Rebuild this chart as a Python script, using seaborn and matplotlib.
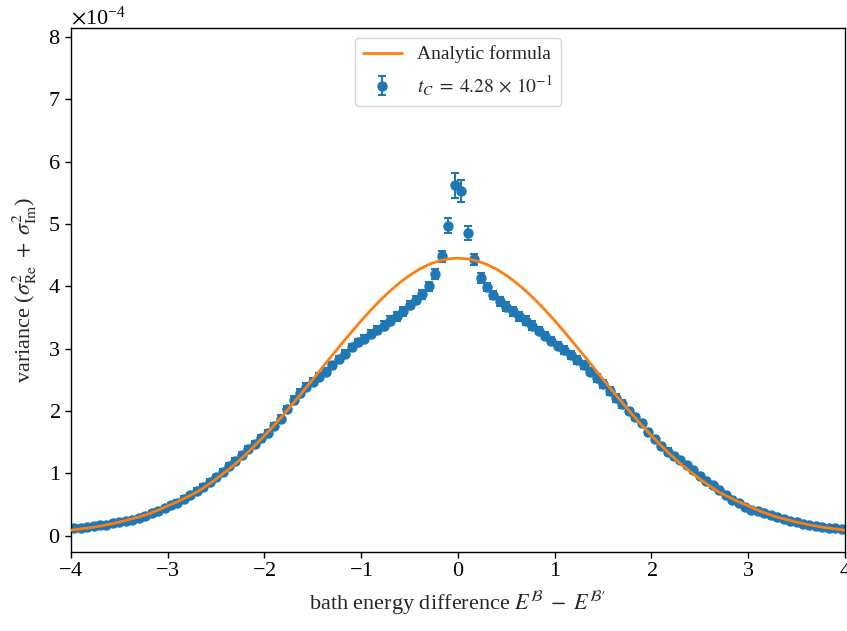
import numpy as np
import pandas as pd
import matplotlib
matplotlib.use("Agg")
import matplotlib.pyplot as plt
import seaborn as sns

# ---- data (values in units of 1e-4) ----
n_bins = 120
x_points = np.linspace(-4, 4, n_bins + 1)[:-1] + 4.0 / n_bins  # bin centres

var_left = [0.12, 0.13, 0.14, 0.15, 0.17, 0.18, 0.20, 0.22, 0.24, 0.26,
            0.29, 0.32, 0.36, 0.40, 0.45, 0.49, 0.53, 0.59, 0.65, 0.72,
            0.79, 0.87, 0.94, 1.03, 1.12, 1.20, 1.29, 1.39, 1.47, 1.56,
            1.64, 1.76, 1.88, 2.03, 2.18, 2.29, 2.39, 2.47, 2.55, 2.63,
            2.73, 2.83, 2.92, 3.02, 3.10, 3.16, 3.24, 3.30, 3.37, 3.45,
            3.52, 3.60, 3.70, 3.78, 3.87, 4.00, 4.19, 4.48, 4.97, 5.62]
var_right = [5.53, 4.85, 4.43, 4.14, 3.99, 3.86, 3.76, 3.67, 3.60, 3.52,
             3.45, 3.37, 3.29, 3.21, 3.13, 3.05, 2.98, 2.90, 2.82, 2.74,
             2.63, 2.53, 2.43, 2.32, 2.21, 2.11, 2.00, 1.91, 1.81, 1.66,
             1.55, 1.44, 1.35, 1.28, 1.21, 1.13, 1.05, 0.96, 0.88, 0.81,
             0.74, 0.66, 0.58, 0.52, 0.46, 0.42, 0.39, 0.36, 0.33, 0.30,
             0.27, 0.24, 0.22, 0.19, 0.17, 0.16, 0.14, 0.13, 0.12, 0.11]
err_left = [0.03, 0.03, 0.03, 0.03, 0.03, 0.03, 0.03, 0.03, 0.03, 0.03,
            0.03, 0.03, 0.03, 0.03, 0.03, 0.03, 0.04, 0.04, 0.04, 0.04,
            0.04, 0.04, 0.04, 0.04, 0.04, 0.05, 0.05, 0.05, 0.05, 0.05,
            0.05, 0.05, 0.05, 0.05, 0.06, 0.06, 0.06, 0.06, 0.06, 0.06,
            0.06, 0.06, 0.06, 0.06, 0.06, 0.06, 0.06, 0.06, 0.07, 0.07,
            0.07, 0.07, 0.07, 0.07, 0.07, 0.07, 0.08, 0.09, 0.12, 0.20]
err_right = [0.18, 0.11, 0.09, 0.08, 0.07, 0.07, 0.07, 0.07, 0.07, 0.07,
             0.07, 0.07, 0.06, 0.06, 0.06, 0.06, 0.06, 0.06, 0.06, 0.06,
             0.06, 0.06, 0.06, 0.06, 0.06, 0.06, 0.05, 0.05, 0.05, 0.05,
             0.05, 0.05, 0.05, 0.05, 0.05, 0.04, 0.04, 0.04, 0.04, 0.04,
             0.04, 0.04, 0.04, 0.03, 0.03, 0.03, 0.03, 0.03, 0.03, 0.03,
             0.03, 0.03, 0.03, 0.03, 0.03, 0.03, 0.03, 0.03, 0.03, 0.03]

# analytic curve, read at x = -4.0, -3.9, ..., 4.0
x_curve = np.linspace(-4, 4, 81)
curve_vals = [0.09, 0.11, 0.13, 0.155, 0.185, 0.22, 0.26, 0.30, 0.35, 0.41,
              0.48, 0.545, 0.62, 0.70, 0.80, 0.91, 1.03, 1.155, 1.295, 1.445,
              1.605, 1.772, 1.948, 2.130, 2.317, 2.507, 2.700, 2.892, 3.083,
              3.268, 3.448, 3.620, 3.780, 3.927, 4.060, 4.175, 4.272, 4.349,
              4.405, 4.439,
              4.45,
              4.439, 4.405, 4.349, 4.272, 4.175, 4.060, 3.927, 3.780, 3.620,
              3.448, 3.268, 3.083, 2.892, 2.700, 2.507, 2.317, 2.130, 1.948,
              1.772, 1.605, 1.445, 1.295, 1.155, 1.03, 0.91, 0.80, 0.70, 0.62,
              0.545, 0.48, 0.41, 0.35, 0.30, 0.26, 0.22, 0.185, 0.155, 0.13,
              0.11, 0.09]

scale = 1e-4
curve_label = "Analytic formula"
data_label = r"$t_C\;=\;4.28\,\times\,10^{-1}$"
xlabel = r"bath energy difference $E^{\mathcal{B}}\;-\;E^{\mathcal{B}\prime}$"
ylabel = r"variance ($\sigma^2_{\rm Re}\;+\;\sigma^2_{\rm Im}$)"

# ---- style ----
sns.set_style("ticks")
plt.rcParams["font.family"] = ["Liberation Serif", "DejaVu Serif"]
plt.rcParams["mathtext.fontset"] = "stix"
plt.rcParams["axes.formatter.use_mathtext"] = True
plt.rcParams["font.size"] = 16
plt.rcParams["xtick.direction"] = "out"
plt.rcParams["ytick.direction"] = "out"

fig = plt.figure(figsize=(8.47, 6.31), dpi=100)
ax = fig.add_axes([0.0838, 0.1252, 0.9138, 0.8304])

y_points = np.array(var_left + var_right) * scale
y_err = np.array(err_left + err_right) * scale

ax.errorbar(x_points, y_points, yerr=y_err, fmt="o", color="#1f77b4",
            markersize=6.5, capsize=3, elinewidth=1.5, capthick=1.5,
            label=data_label, zorder=2)

df_curve = pd.DataFrame({"x": x_curve, "y": np.array(curve_vals) * scale})
sns.lineplot(data=df_curve, x="x", y="y", color="#ff7f0e", linewidth=2,
             label=curve_label, ax=ax, zorder=3)

ax.set_xlim(-4, 4)
ax.set_ylim(-0.26e-4, 8.14e-4)
ax.set_yticks(np.arange(0, 9) * scale)
ax.set_xticks(np.arange(-4, 5))
ax.ticklabel_format(axis="y", style="sci", scilimits=(0, 0), useMathText=True)
ax.tick_params(labelsize=16, length=4, width=1, colors="black")
for s in ax.spines.values():
    s.set_visible(True)
    s.set_color("black")
    s.set_linewidth(1)
ax.set_xlabel(xlabel, fontsize=16, labelpad=6)
ax.set_ylabel(ylabel, fontsize=16, labelpad=6)
ax.yaxis.get_offset_text().set_fontsize(16)

ax.legend(loc="upper center", fontsize=14, frameon=True, framealpha=0.8,
          edgecolor="#cccccc", fancybox=True)

fig.savefig("out.png", dpi=100)
